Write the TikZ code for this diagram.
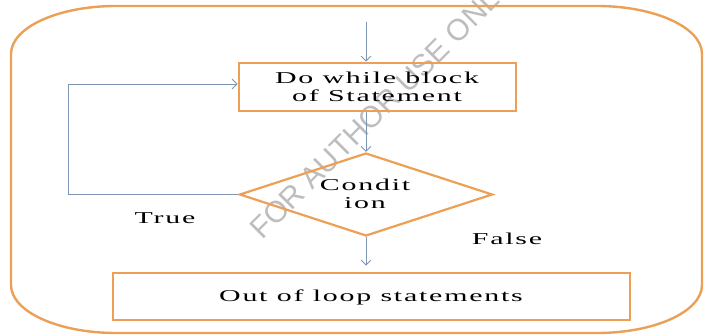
\documentclass[tikz,border=0pt]{standalone}
\usepackage{fontspec}
\usepackage{graphicx}
\usetikzlibrary{shapes.geometric,arrows.meta}
\setmainfont{Liberation Serif}
\newfontfamily\flowfont[LetterSpace=6]{Liberation Serif}
\newfontfamily\markfont{Liberation Sans}
\newcommand\wide[1]{\scalebox{1.8}[1]{\flowfont #1}}
\definecolor{boxorange}{HTML}{EBA055}
\definecolor{linkblue}{HTML}{7F95B5}
\definecolor{markgray}{HTML}{BDBDBD}
\begin{document}
\begin{tikzpicture}[x=1pt,y=1pt,
  every node/.style={font=\fontsize{16.6}{19}\selectfont},
  stepbox/.style={draw=boxorange,line width=2.6pt,rectangle,inner sep=0pt},
  testbox/.style={draw=boxorange,line width=2.2pt,diamond,inner sep=0pt,
    minimum width=253pt,minimum height=83pt,aspect=3.05},
  link/.style={draw=linkblue,line width=0.9pt,-{Straight Barb[length=5pt,width=10pt]}},
  label/.style={inner sep=0pt,align=center}]
  \clip (0,0) rectangle (705,335);
  % watermark
  \node[text=markgray, anchor=base west, rotate=45, inner sep=0pt,
        font=\markfont\fontsize{30}{30}\selectfont] (mark) at (262,94) {FOR AUTHOR USE ONLY};
  % outer frame with wide rounded corners
  \draw[boxorange,line width=2.4pt]
    (11,50) -- (11,281) arc[start angle=180,end angle=90,x radius=105,y radius=48]
    -- (597,329) arc[start angle=90,end angle=0,x radius=105,y radius=48]
    -- (702,50) arc[start angle=0,end angle=-90,x radius=105,y radius=48]
    -- (116,2) arc[start angle=270,end angle=180,x radius=105,y radius=48] -- cycle;
  % flow elements
  \node[stepbox,minimum width=277pt,minimum height=48pt] (body) at (377.5,248) {};
  \node[label] (bodytxt) at (377,248) {\wide{Do while block}\\[-1pt]\wide{of Statement}};
  \node[testbox] (cond) at (366,140.5) {};
  \node[label] (condtxt) at (365,141) {\wide{Condit}\\[-1pt]\wide{ion}};
  \node[stepbox,minimum width=517pt,minimum height=47pt] (after) at (371.5,38.5) {};
  \node[label] (aftertxt) at (371,38) {\wide{Out of loop statements}};
  \node[label] (true) at (165,117) {\wide{True}};
  \node[label] (false) at (507,96) {\wide{False}};
  % connectors
  \coordinate (entry) at (366,313);
  \coordinate (loopcorner) at (68,251);
  \draw[link] (entry) -- (entry |- body.north);
  \draw[link] (cond.north |- body.south) -- (cond.north);
  \draw[link,shorten >=6pt] (cond.south) -- (cond.south |- after.north);
  \draw[link] (cond.west) -| (loopcorner) -- (loopcorner -| body.west);
\end{tikzpicture}
\end{document}
